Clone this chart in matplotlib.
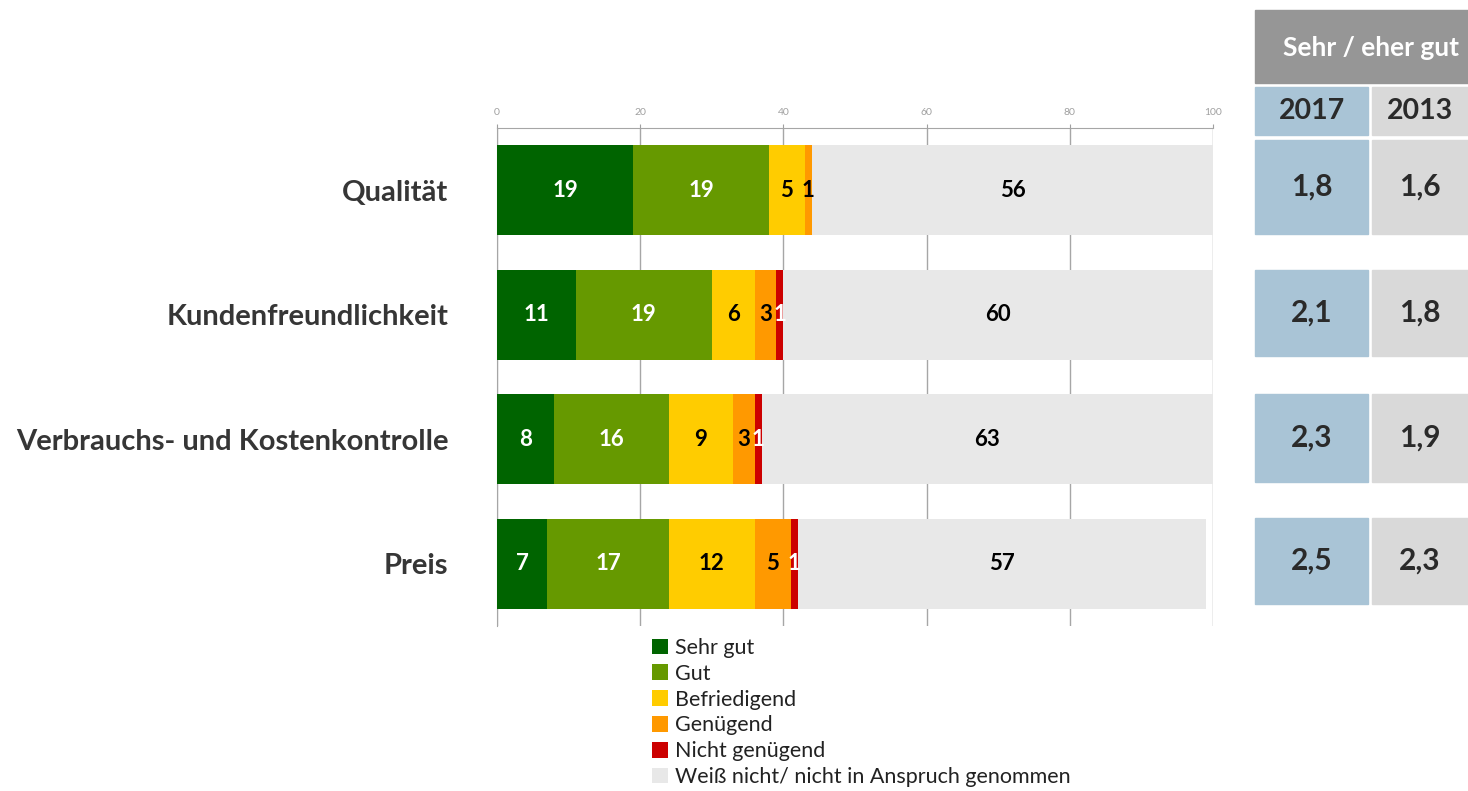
import matplotlib.pyplot as plt
from matplotlib.patches import Rectangle
import numpy as np

plt.rcParams['font.family'] = ['Lato', 'DejaVu Sans']

categories = ['Qualität', 'Kundenfreundlichkeit', 'Verbrauchs- und Kostenkontrolle', 'Preis']
series = ['Sehr gut', 'Gut', 'Befriedigend', 'Genügend', 'Nicht genügend',
          'Weiß nicht/ nicht in Anspruch genommen']
sehr_gut = [19, 11, 8, 7]
gut = [19, 19, 16, 17]
befriedigend = [5, 6, 9, 12]
genuegend = [1, 3, 3, 5]
nicht_genuegend = [0, 1, 1, 1]
weiss_nicht = [56, 60, 63, 57]
note_2017 = ['1,8', '2,1', '2,3', '2,5']
note_2013 = ['1,6', '1,8', '1,9', '2,3']
years = ['2017', '2013']

colors = ['#006400', '#669900', '#FFCC00', '#FF9900', '#CC0000', '#E8E8E8']
label_colors = ['white', 'white', 'black', 'black', 'white', 'black']

W, H = 1468, 791
fig = plt.figure(figsize=(W / 100, H / 100), dpi=100)
ax = fig.add_axes([497 / W, 1 - 626 / H, 716 / W, 498 / H])

y = np.arange(len(categories))
data = [sehr_gut, gut, befriedigend, genuegend, nicht_genuegend, weiss_nicht]
left = np.zeros(len(categories))
for vals, col, lc, name in zip(data, colors, label_colors, series):
    vals = np.array(vals, dtype=float)
    bars = ax.barh(y, vals, left=left, height=0.72, color=col, label=name, zorder=3)
    for b, v in zip(bars, vals):
        if v > 0:
            ax.text(b.get_x() + b.get_width() / 2, b.get_y() + b.get_height() / 2,
                    f'{int(v)}', ha='center', va='center', color=lc,
                    fontsize=16, fontweight='bold', zorder=4)
    left += vals

ax.set_xlim(0, 100)
ax.set_ylim(3.5, -0.5)
ax.set_xticks([0, 20, 40, 60, 80, 100])
ax.xaxis.tick_top()
ax.tick_params(axis='x', direction='out', length=3, color='#A0A0A0',
               labelsize=7.5, labelcolor='#A0A0A0', pad=5)
ax.set_yticks(y)
ax.set_yticklabels(categories, fontsize=21, fontweight='bold', color='#363636')
ax.tick_params(axis='y', length=0, pad=35)
ax.grid(axis='x', color='#A6A6A6', linewidth=1, zorder=0)
for side in ['right', 'bottom']:
    ax.spines[side].set_visible(False)
for side in ['top', 'left']:
    ax.spines[side].set_color('#A6A6A6')

leg = ax.legend(loc='upper left', bbox_to_anchor=(652 / W, 1 - 638 / H),
                bbox_transform=fig.transFigure, frameon=False, fontsize=15.5,
                handlelength=0.75, handleheight=0.75, handletextpad=0.3,
                labelspacing=0.27, borderaxespad=0, borderpad=0)
for t in leg.get_texts():
    t.set_color('#222222')


def box(x0, y0, x1, y1, color):
    fig.patches.append(Rectangle((x0 / W, 1 - y1 / H), (x1 - x0) / W, (y1 - y0) / H,
                                 transform=fig.transFigure, color=color, zorder=1))


# summary table on the right
box(1255, 10, 1468, 83, '#969696')
fig.text(1371 / W, 1 - 48 / H, 'Sehr / eher gut', color='white', fontsize=19,
         fontweight='bold', ha='center', va='center')
col_x = [(1255, 1368, '#A9C4D6'), (1372, 1468, '#D9D9D9')]
for (x0, x1, c), yr in zip(col_x, years):
    box(x0, 87, x1, 135, c)
    fig.text((x0 + x1) / 2 / W, 1 - 111 / H, yr, color='#2A2A2A', fontsize=20.5,
             fontweight='bold', ha='center', va='center')
rows = [(140, 234), (270, 356), (394, 482), (518, 604)]
for (y0, y1), v17, v13 in zip(rows, note_2017, note_2013):
    for (x0, x1, c), v in zip(col_x, [v17, v13]):
        box(x0, y0, x1, y1, c)
        fig.text((x0 + x1) / 2 / W, 1 - (y0 + y1) / 2 / H, v, color='#2A2A2A',
                 fontsize=21.5, fontweight='bold', ha='center', va='center')

fig.savefig('out.png', dpi=100)
